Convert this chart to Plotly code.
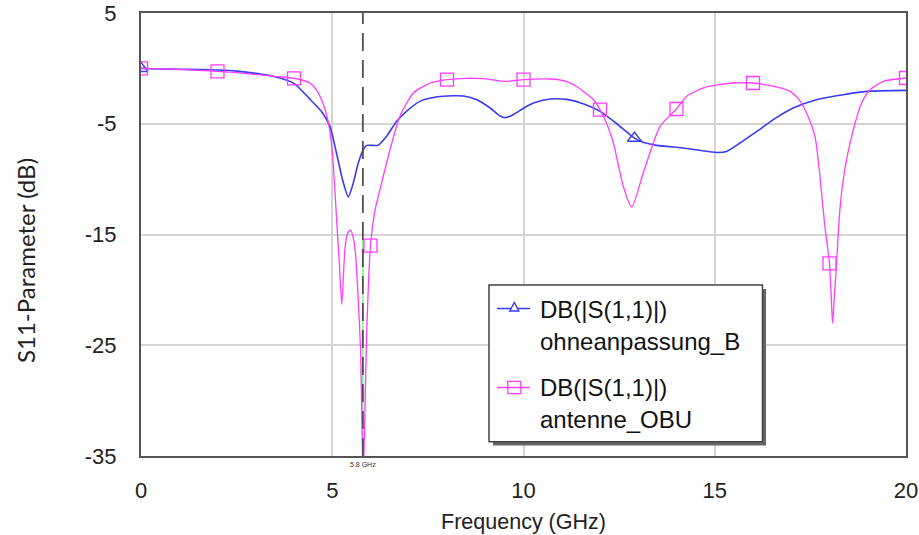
import plotly.graph_objects as go

# Return loss |S11| in dB versus frequency for the two antenna variants
freq_b = [0.0, 0.5, 1.0, 1.5, 2.0, 2.5, 3.0, 3.5, 4.0, 4.43, 4.72, 4.94, 5.11, 5.28,
          5.42, 5.55, 5.68, 5.81, 5.9, 6.2, 6.42, 6.68, 6.94, 7.29, 7.72, 8.15,
          8.43, 8.78, 9.13, 9.39, 9.52, 9.73, 10.0, 10.26, 10.69, 11.13, 11.56,
          12.0, 12.44, 12.9, 13.13, 13.48, 14.18, 14.61, 15.05, 15.31, 15.66,
          16.1, 16.53, 17.05, 17.66, 18.36, 18.97, 20.0]
s11_b = [0.0, -0.05, -0.08, -0.1, -0.15, -0.25, -0.45, -0.75, -1.35, -2.83, -3.9,
         -5.24, -7.64, -10.2, -11.6, -10.35, -8.55, -7.35, -6.95, -6.95, -6.14,
         -4.79, -3.88, -2.98, -2.59, -2.47, -2.5, -2.83, -3.58, -4.3, -4.45,
         -4.18, -3.6, -3.13, -2.77, -2.8, -3.19, -3.88, -5.0, -6.3, -6.68, -6.95,
         -7.19, -7.4, -7.59, -7.5, -6.74, -5.69, -4.63, -3.58, -2.83, -2.38,
         -2.08, -1.99]

freq_obu = [0.0, 0.5, 1.0, 1.5, 2.0, 2.5, 3.0, 3.5, 4.0, 4.2, 4.42, 4.6, 4.72,
            4.82, 4.9, 4.97, 5.03, 5.11, 5.19, 5.25, 5.33, 5.4, 5.48, 5.55, 5.6,
            5.68, 5.74, 5.81, 5.9, 6.0, 6.12, 6.29, 6.51, 6.77, 7.12, 7.56, 8.0,
            8.5, 8.95, 9.56, 10.0, 10.69, 11.1, 11.39, 11.83, 12.0, 12.2, 12.35,
            12.61, 12.83, 13.13, 13.57, 14.0, 14.26, 14.78, 15.48, 16.0, 16.61,
            16.97, 17.2, 17.4, 17.62, 17.75, 17.88, 18.0, 18.05, 18.08, 18.12,
            18.19, 18.27, 18.4, 18.58, 18.84, 19.06, 19.41, 20.0]
s11_obu = [0.0, -0.05, -0.1, -0.18, -0.27, -0.38, -0.55, -0.72, -0.9, -1.05,
           -1.32, -2.0, -2.83, -3.8, -4.93, -6.5, -8.85, -13.4, -17.9, -21.3,
           -16.4, -14.9, -14.6, -15.3, -16.4, -20.9, -25.4, -37.0, -23.9, -16.0,
           -12.8, -10.35, -7.35, -4.3, -2.22, -1.32, -1.02, -0.9, -0.93, -1.17,
           -1.02, -0.96, -1.15, -1.63, -2.83, -3.73, -5.2, -6.74, -10.66, -12.52,
           -9.45, -5.24, -3.67, -2.53, -1.68, -1.32, -1.32, -1.68, -2.08, -2.8,
           -4.03, -6.14, -9.75, -14.3, -17.6, -21.0, -23.0, -21.0, -17.3, -12.8,
           -9.15, -6.14, -3.13, -1.93, -1.17, -0.87]

# Frequencies carrying a symbol on each trace
marker_freq_b = [0.0, 12.9]
marker_freq_obu = [0.0, 2.0, 4.0, 6.0, 8.0, 10.0, 12.0, 14.0, 16.0, 18.0, 20.0]

marker_freq_ghz = 5.8
x_ticks = [0, 5, 10, 15, 20]
y_ticks = [5, -5, -15, -25, -35]
y_tick_text = ["5", "-5", "-15", "-25", "-35"]

legend_lines_b = ["DB(|S(1,1)|)", "ohneanpassung_B"]
legend_lines_obu = ["DB(|S(1,1)|)", "antenne_OBU"]

blue = "#3a3af5"
magenta = "#ff3cff"
clear = "rgba(0,0,0,0)"

# page geometry (pixels) used to place the legend box in paper units
W, H = 919, 535
M_L, M_R, M_T, M_B = 141, 13, 13, 79
PW, PH = W - M_L - M_R, H - M_T - M_B


def px(xpix):
    return (xpix - M_L) / PW


def py(ypix):
    return (H - M_B - ypix) / PH


def symbol_colors(xs, wanted, color):
    # symbol only at the listed frequencies, invisible elsewhere
    return [color if x in wanted else clear for x in xs]


fig = go.Figure()

fig.add_trace(go.Scatter(
    x=freq_b, y=s11_b, mode="lines+markers", name=" ".join(legend_lines_b),
    line=dict(color=blue, width=1.6, shape="spline", smoothing=0.6),
    marker=dict(symbol="triangle-up-open", size=12,
                color=symbol_colors(freq_b, marker_freq_b, blue),
                line=dict(width=1.5)),
    showlegend=False))
fig.add_trace(go.Scatter(
    x=freq_obu, y=s11_obu, mode="lines+markers", name=" ".join(legend_lines_obu),
    line=dict(color=magenta, width=1.3, shape="spline", smoothing=0.6),
    marker=dict(symbol="square-open", size=13,
                color=symbol_colors(freq_obu, marker_freq_obu, magenta),
                line=dict(width=1.3)),
    showlegend=False))

# marker line at the design frequency
fig.add_shape(type="line", xref="x", yref="y", x0=marker_freq_ghz, x1=marker_freq_ghz,
              y0=-15.5, y1=-35, line=dict(color="#66ee66", width=1.2), layer="below")
fig.add_shape(type="line", xref="x", yref="paper", x0=marker_freq_ghz, x1=marker_freq_ghz,
              y0=0, y1=1, line=dict(color="#505050", width=1.8, dash="18px,9px"),
              layer="above")
fig.add_annotation(x=marker_freq_ghz, xref="x", y=-0.02, yref="paper",
                   text="5.8 GHz", showarrow=False, yanchor="middle",
                   font=dict(size=7, color="#333333", family="Liberation Sans"))

# ---- legend box with drop shadow ----
fig.add_shape(type="rect", xref="paper", yref="paper",
              x0=px(493), x1=px(766), y0=py(445.5), y1=py(289),
              fillcolor="#666666", line=dict(width=0), layer="above")
fig.add_shape(type="rect", xref="paper", yref="paper",
              x0=px(489), x1=px(762.5), y0=py(441.7), y1=py(285),
              fillcolor="white", line=dict(color="#444444", width=1.5), layer="above")

# legend keys
key_x0, key_x1, key_cx = 497, 530, 514.3
row_b, row_obu = 308.5, 387.5
for row, color in ((row_b, blue), (row_obu, magenta)):
    fig.add_shape(type="line", xref="paper", yref="paper",
                  x0=px(key_x0), x1=px(key_x1), y0=py(row), y1=py(row),
                  line=dict(color=color, width=1.5), layer="above")
fig.add_shape(type="path", xref="paper", yref="paper",
              path=(f"M{px(key_cx)},{py(row_b - 6)} L{px(key_cx + 4.5)},{py(row_b + 2.5)} "
                    f"L{px(key_cx - 4.5)},{py(row_b + 2.5)} Z"),
              fillcolor="white", line=dict(color=blue, width=1.4), layer="above")
fig.add_shape(type="rect", xref="paper", yref="paper",
              x0=px(key_cx - 6.5), x1=px(key_cx + 6.5),
              y0=py(row_obu + 6.2), y1=py(row_obu - 6.2),
              fillcolor="rgba(0,0,0,0)", line=dict(color=magenta, width=1.3), layer="above")

# legend text, one line each
text_rows = [(309, legend_lines_b[0]), (341, legend_lines_b[1]),
             (387.5, legend_lines_obu[0]), (419, legend_lines_obu[1])]
for row, txt in text_rows:
    fig.add_annotation(x=px(537.5), y=py(row), xref="paper", yref="paper",
                       text=txt, showarrow=False, xanchor="left", yanchor="middle",
                       font=dict(size=24, family="Liberation Sans", color="#111111"))

fig.add_annotation(x=px(25), xref="paper", y=py(261), yref="paper",
                   text="S11-Parameter (dB)", textangle=-90, showarrow=False,
                   xanchor="center", yanchor="middle",
                   font=dict(size=24, color="#222222", family="Lato"))

fig.update_layout(
    width=W, height=H,
    margin=dict(l=M_L, r=M_R, t=M_T, b=M_B),
    paper_bgcolor="white", plot_bgcolor="white",
    font=dict(family="Liberation Sans", size=22, color="#222222"),
    showlegend=False,
    xaxis=dict(range=[0, 20], tickvals=x_ticks, ticks="", ticklabelstandoff=14,
               automargin=False,
               showgrid=True, gridcolor="#d4d4d4", gridwidth=1.5, zeroline=False,
               showline=True, mirror=True, linecolor="#555555", linewidth=2,
               title=dict(text="Frequency (GHz)", standoff=12,
                          font=dict(size=21.5, family="Liberation Sans"))),
    yaxis=dict(range=[-35, 5], tickvals=y_ticks, ticktext=y_tick_text, ticks="",
               ticklabelstandoff=18, automargin=False,
               showgrid=True, gridcolor="#d4d4d4", gridwidth=1.5, zeroline=False,
               showline=True, mirror=True, linecolor="#555555", linewidth=2),
)

fig.write_html("out.html")
